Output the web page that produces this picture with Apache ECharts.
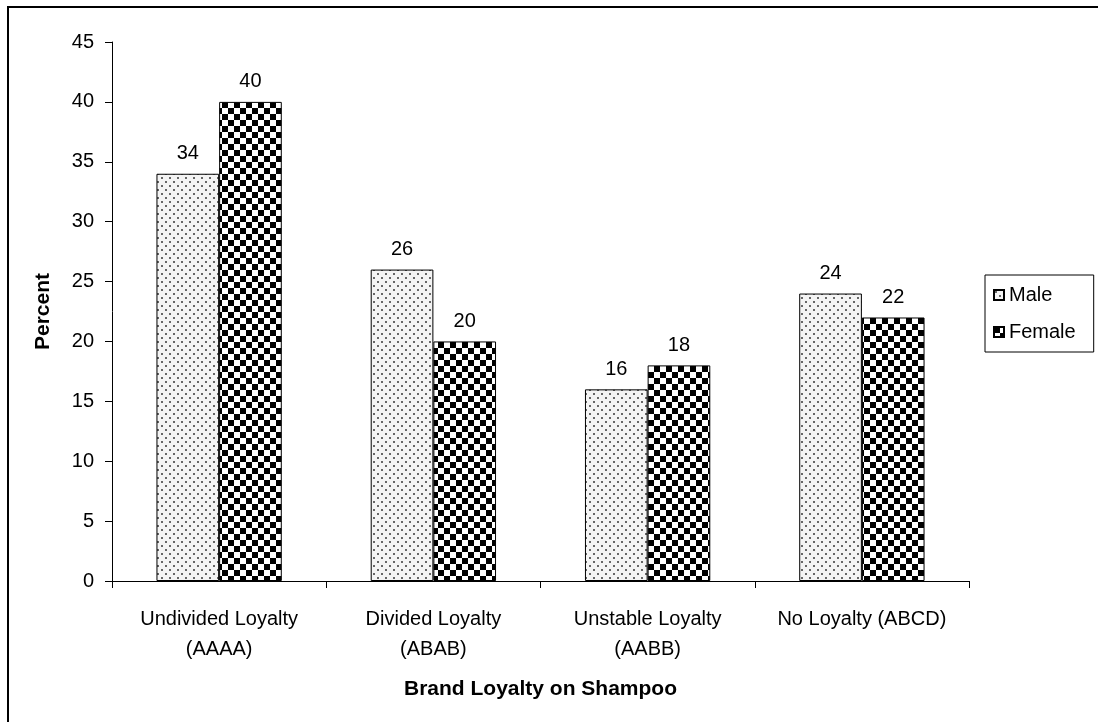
<!DOCTYPE html>
<html>
<head>
<meta charset="utf-8">
<title>Brand Loyalty on Shampoo</title>
<script src="https://cdn.jsdelivr.net/npm/echarts@6/dist/echarts.min.js"></script>
<style>
  html, body { margin: 0; padding: 0; background: #fff; }
  #chart { width: 1098px; height: 722px; }
</style>
</head>
<body>
<div id="chart"></div>
<script>
// Chart data
const categories = [
  'Undivided Loyalty\n(AAAA)',
  'Divided Loyalty\n(ABAB)',
  'Unstable Loyalty\n(AABB)',
  'No Loyalty (ABCD)'
];
const maleValues = [34, 26, 16, 24];
const femaleValues = [40, 20, 18, 22];
const seriesNames = ['Male', 'Female'];
const yTicks = { min: 0, max: 45, step: 5 };

// Fill patterns: fine dots for Male, checkerboard for Female
function dotPattern() {
  const c = document.createElement('canvas');
  c.width = 8; c.height = 8;
  const g = c.getContext('2d');
  g.fillStyle = '#f4f4f4';
  g.fillRect(0, 0, 8, 8);
  g.fillStyle = '#666';
  g.fillRect(1, 1, 2, 2);
  g.fillRect(5, 5, 2, 2);
  return c;
}
function checkerPattern() {
  const s = 6;
  const c = document.createElement('canvas');
  c.width = s * 2; c.height = s * 2;
  const g = c.getContext('2d');
  g.fillStyle = '#fff';
  g.fillRect(0, 0, s * 2, s * 2);
  g.fillStyle = '#000';
  g.fillRect(0, 0, s, s);
  g.fillRect(s, s, s, s);
  return c;
}

const font = 'Liberation Sans, Arial, sans-serif';
const textSize = 20;
const titleSize = 21;
const chart = echarts.init(document.getElementById('chart'), null, { renderer: 'canvas' });

chart.setOption({
  backgroundColor: '#fff',
  animation: false,
  textStyle: { fontFamily: font, color: '#000' },
  graphic: [{
    type: 'rect',
    shape: { x: 8, y: 7, width: 1300, height: 900 },
    style: { fill: 'none', stroke: '#000', lineWidth: 2 },
    silent: true
  }],
  legend: {
    orient: 'vertical',
    left: 985,
    top: 275,
    padding: [10, 18, 10, 8],
    itemWidth: 10,
    itemHeight: 10,
    itemGap: 17,
    itemTextGap: 10,
    borderColor: '#000',
    borderWidth: 1,
    icon: 'rect',
    textStyle: { fontFamily: font, fontSize: textSize, color: '#000' },
    data: seriesNames
  },
  grid: { left: 112, top: 42, width: 857, height: 539, containLabel: false },
  xAxis: {
    type: 'category',
    data: categories,
    name: 'Brand Loyalty on Shampoo',
    nameLocation: 'middle',
    nameGap: 98,
    nameTextStyle: { fontFamily: font, fontSize: titleSize, fontWeight: 'bold', color: '#000' },
    axisLine: { lineStyle: { color: '#000', width: 1 } },
    axisTick: { show: true, length: 7, alignWithLabel: false, interval: 0, lineStyle: { color: '#000' } },
    axisLabel: { interval: 0, fontFamily: font, fontSize: textSize, color: '#000', margin: 23, lineHeight: 30 }
  },
  yAxis: {
    type: 'value',
    min: yTicks.min,
    max: yTicks.max,
    interval: yTicks.step,
    name: 'Percent',
    nameLocation: 'middle',
    nameGap: 58,
    nameRotate: 90,
    nameTextStyle: { fontFamily: font, fontSize: titleSize, fontWeight: 'bold', color: '#000' },
    axisLine: { show: true, lineStyle: { color: '#000', width: 1 } },
    axisTick: { show: true, length: 7, lineStyle: { color: '#000' } },
    splitLine: { show: false },
    axisLabel: { fontFamily: font, fontSize: textSize, color: '#000', margin: 18 }
  },
  series: [
    {
      name: seriesNames[0],
      type: 'bar',
      data: maleValues,
      barGap: '0%',
      barCategoryGap: '41.5%',
      itemStyle: { color: { image: dotPattern(), repeat: 'repeat' }, borderColor: '#000', borderWidth: 1 },
      label: { show: true, position: 'top', distance: 10, fontFamily: font, fontSize: textSize, color: '#000' }
    },
    {
      name: seriesNames[1],
      type: 'bar',
      data: femaleValues,
      itemStyle: { color: { image: checkerPattern(), repeat: 'repeat' }, borderColor: '#000', borderWidth: 1 },
      label: { show: true, position: 'top', distance: 10, fontFamily: font, fontSize: textSize, color: '#000' }
    }
  ]
});
</script>
</body>
</html>
